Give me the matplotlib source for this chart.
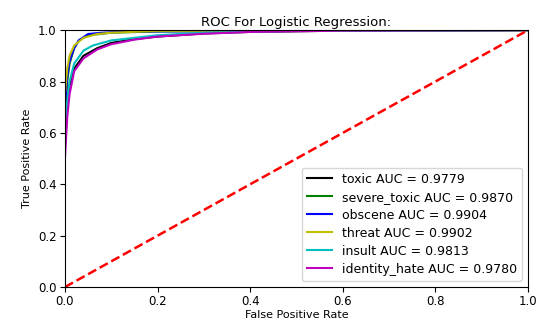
import matplotlib
matplotlib.use('Agg')
import matplotlib.pyplot as plt

# ROC curve points (fpr, tpr) for each class
classes = ['toxic', 'severe_toxic', 'obscene', 'threat', 'insult', 'identity_hate']
aucs = [0.9779, 0.9870, 0.9904, 0.9902, 0.9813, 0.9780]
colors = ['k', 'g', 'b', 'y', 'c', 'm']

fpr_toxic = [0, 0, 0.005, 0.01, 0.02, 0.04, 0.07, 0.1, 0.15, 0.2, 0.3, 0.4, 0.6, 1]
tpr_toxic = [0, 0.55, 0.7, 0.78, 0.85, 0.9, 0.93, 0.95, 0.965, 0.975, 0.987, 0.993, 0.998, 1]

fpr_severe = [0, 0, 0.005, 0.01, 0.02, 0.03, 0.05, 0.1, 0.2, 1]
tpr_severe = [0, 0.65, 0.8, 0.87, 0.93, 0.96, 0.98, 0.99, 0.995, 1]

fpr_obscene = [0, 0, 0.005, 0.01, 0.02, 0.03, 0.05, 0.08, 0.15, 1]
tpr_obscene = [0, 0.7, 0.82, 0.88, 0.93, 0.96, 0.985, 0.99, 0.995, 1]

fpr_threat = [0, 0, 0.005, 0.01, 0.02, 0.04, 0.07, 0.1, 0.2, 1]
tpr_threat = [0, 0.75, 0.85, 0.9, 0.94, 0.97, 0.985, 0.99, 0.997, 1]

fpr_insult = [0, 0, 0.005, 0.01, 0.02, 0.04, 0.06, 0.1, 0.2, 0.3, 0.5, 1]
tpr_insult = [0, 0.6, 0.72, 0.8, 0.87, 0.92, 0.94, 0.96, 0.98, 0.99, 0.997, 1]

fpr_hate = [0, 0, 0.005, 0.01, 0.02, 0.04, 0.07, 0.1, 0.15, 0.2, 0.3, 0.4, 0.6, 1]
tpr_hate = [0, 0.5, 0.66, 0.75, 0.84, 0.89, 0.925, 0.945, 0.963, 0.975, 0.986, 0.993, 0.998, 1]

fprs = [fpr_toxic, fpr_severe, fpr_obscene, fpr_threat, fpr_insult, fpr_hate]
tprs = [tpr_toxic, tpr_severe, tpr_obscene, tpr_threat, tpr_insult, tpr_hate]


def plot():
    fig = plt.figure(figsize=(5.41, 3.24), dpi=100)
    ax = fig.add_axes([0.120, 0.114, 0.856, 0.793])

    for name, auc, c, fpr, tpr in zip(classes, aucs, colors, fprs, tprs):
        ax.plot(fpr, tpr, color=c, lw=1.5, label='%s AUC = %0.4f' % (name, auc))

    ax.plot([0, 1], [0, 1], 'r--', lw=1.8)
    ax.set_xlim([0.0, 1.0])
    ax.set_ylim([0.0, 1.0])
    ax.tick_params(labelsize=8.5, pad=2.5)
    ax.set_xlabel('False Positive Rate', fontsize=8, labelpad=1)
    ax.set_ylabel('True Positive Rate', fontsize=8)
    ax.set_title('ROC For Logistic Regression:', fontsize=9.5, pad=3)
    ax.legend(loc='lower right', fontsize=9, labelspacing=0.4)

    fig.savefig('out.png', dpi=100)


if __name__ == "__main__":
    plot()
